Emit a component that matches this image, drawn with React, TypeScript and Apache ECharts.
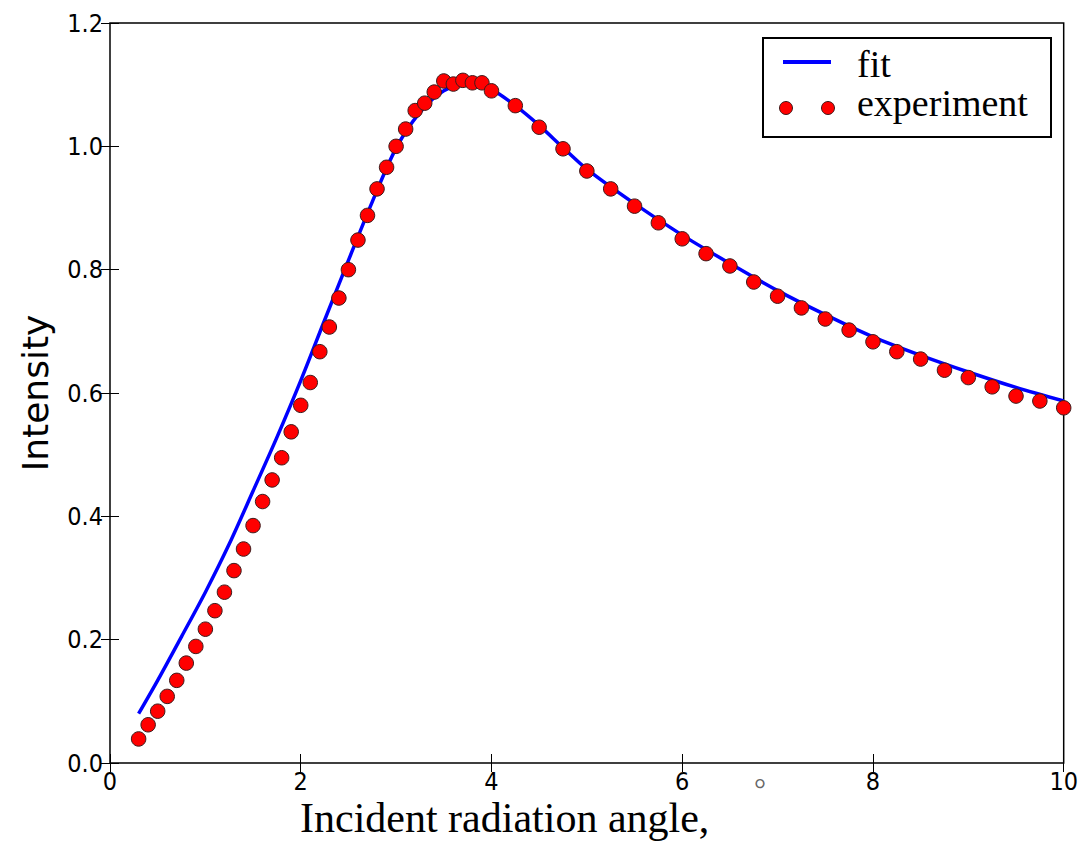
import React, { useEffect, useRef } from "react";
import * as echarts from "echarts";

// experiment points (angle in degrees, intensity)
const expX = [
  0.3, 0.4, 0.5, 0.6, 0.7, 0.8, 0.9, 1.0, 1.1, 1.2, 1.3, 1.4, 1.5, 1.6, 1.7, 1.8, 1.9,
  2.0, 2.1, 2.2, 2.3, 2.4, 2.5, 2.6, 2.7, 2.8, 2.9, 3.0, 3.1, 3.2, 3.3, 3.4, 3.5, 3.6,
  3.7, 3.8, 3.9, 4.0, 4.25, 4.5, 4.75, 5.0, 5.25, 5.5, 5.75, 6.0, 6.25, 6.5, 6.75, 7.0,
  7.25, 7.5, 7.75, 8.0, 8.25, 8.5, 8.75, 9.0, 9.25, 9.5, 9.75, 10.0,
];
const expY = [
  0.039, 0.062, 0.084, 0.108, 0.134, 0.162, 0.189, 0.217, 0.247, 0.277, 0.312, 0.347,
  0.385, 0.424, 0.459, 0.495, 0.537, 0.58, 0.617, 0.667, 0.707, 0.754, 0.8, 0.848, 0.888,
  0.931, 0.966, 1.0, 1.028, 1.058, 1.07, 1.088, 1.106, 1.101, 1.107, 1.103, 1.103, 1.09,
  1.066, 1.031, 0.996, 0.96, 0.931, 0.903, 0.876, 0.85, 0.826, 0.806, 0.78, 0.757, 0.738,
  0.72, 0.702, 0.683, 0.667, 0.655, 0.637, 0.625, 0.61, 0.595, 0.587, 0.576,
];

// fitted curve samples
const fitX = [
  0.3, 0.5, 0.75, 1.0, 1.25, 1.5, 1.75, 2.0, 2.25, 2.5, 2.75, 3.0, 3.25, 3.5, 3.75, 4.0,
  4.25, 4.5, 4.75, 5.0, 5.5, 6.0, 6.5, 7.0, 7.5, 8.0, 8.5, 9.0, 9.5, 10.0,
];
const fitY = [
  0.08, 0.134, 0.205, 0.277, 0.355, 0.441, 0.528, 0.62, 0.718, 0.815, 0.91, 0.997, 1.055,
  1.09, 1.101, 1.092, 1.066, 1.034, 0.998, 0.963, 0.907, 0.856, 0.81, 0.766, 0.727, 0.691,
  0.661, 0.634, 0.609, 0.587,
];

const seriesNames = ["fit", "experiment"];
const xTitle = "Incident radiation angle,";
const yTitle = "Intensity";

export default function App() {
  const ref = useRef<HTMLDivElement>(null);

  useEffect(() => {
    const chart = echarts.init(ref.current!, null, { renderer: "svg" });
    const sans = "'DejaVu Sans Condensed', 'DejaVu Sans', sans-serif";
    const serif = "'Liberation Serif', 'Times New Roman', serif";
    const tick = { inside: true, length: 9, lineStyle: { color: "#000", width: 1 } };
    const tickLabel = { fontFamily: sans, fontSize: 25, color: "#000" };

    chart.setOption({
      animation: false,
      backgroundColor: "#ffffff",
      grid: {
        left: 110,
        right: 16,
        top: 23,
        bottom: 79,
        show: true,
        borderColor: "#000",
        borderWidth: 1.5,
        backgroundColor: "transparent",
      },
      xAxis: [
        {
          type: "value",
          min: 0,
          max: 10,
          interval: 2,
          position: "bottom",
          axisLine: { show: false },
          axisTick: tick,
          axisLabel: { ...tickLabel, margin: 6, formatter: (v: number) => String(v) },
          splitLine: { show: false },
        },
        {
          type: "value",
          min: 0,
          max: 10,
          interval: 2,
          position: "top",
          axisLine: { show: false },
          axisTick: tick,
          axisLabel: { show: false },
          splitLine: { show: false },
        },
      ],
      yAxis: [
        {
          type: "value",
          min: 0,
          max: 1.2,
          interval: 0.2,
          position: "left",
          name: yTitle,
          nameLocation: "middle",
          nameGap: 57,
          nameTextStyle: { fontFamily: "'DejaVu Sans', sans-serif", fontSize: 36, color: "#000" },
          axisLine: { show: false },
          axisTick: tick,
          axisLabel: { ...tickLabel, margin: 7, formatter: (v: number) => v.toFixed(1) },
          splitLine: { show: false },
        },
        {
          type: "value",
          min: 0,
          max: 1.2,
          interval: 0.2,
          position: "right",
          axisLine: { show: false },
          axisTick: tick,
          axisLabel: { show: false },
          splitLine: { show: false },
        },
      ],
      series: [
        {
          name: seriesNames[0],
          type: "line",
          xAxisIndex: 0,
          yAxisIndex: 0,
          data: fitX.map((x, i) => [x, fitY[i]]),
          smooth: 0.3,
          symbol: "none",
          lineStyle: { color: "#0000ff", width: 3.5 },
          z: 2,
        },
        {
          name: seriesNames[1],
          type: "scatter",
          xAxisIndex: 0,
          yAxisIndex: 0,
          data: expX.map((x, i) => [x, expY[i]]),
          symbol: "circle",
          symbolSize: 14.5,
          itemStyle: { color: "#ff0000", borderColor: "#3b1c1c", borderWidth: 1, opacity: 1 },
          z: 3,
        },
      ],
      graphic: [
        {
          type: "rect",
          z: 100,
          shape: { x: 763, y: 38, width: 288, height: 99 },
          style: { fill: "#fff", stroke: "#000", lineWidth: 2 },
        },
        {
          type: "line",
          z: 101,
          shape: { x1: 783, y1: 62, x2: 831, y2: 62 },
          style: { stroke: "#0000ff", lineWidth: 4 },
        },
        {
          type: "text",
          z: 101,
          x: 857,
          y: 64,
          style: {
            text: seriesNames[0],
            font: `38px ${serif}`,
            fill: "#000",
            textAlign: "left",
            textVerticalAlign: "middle",
          },
        },
        {
          type: "circle",
          z: 101,
          shape: { cx: 786, cy: 108, r: 6.5 },
          style: { fill: "#ff0000", stroke: "#3b1c1c", lineWidth: 1 },
        },
        {
          type: "circle",
          z: 101,
          shape: { cx: 828, cy: 108, r: 6.5 },
          style: { fill: "#ff0000", stroke: "#3b1c1c", lineWidth: 1 },
        },
        {
          type: "text",
          z: 101,
          x: 857,
          y: 103,
          style: {
            text: seriesNames[1],
            font: `38px ${serif}`,
            fill: "#000",
            textAlign: "left",
            textVerticalAlign: "middle",
          },
        },
        {
          type: "text",
          z: 101,
          x: 300,
          y: 818,
          style: {
            text: xTitle,
            font: `42px ${serif}`,
            lineHeight: 40,
            fill: "#000",
            textAlign: "left",
            textVerticalAlign: "middle",
          },
        },
        {
          type: "text",
          z: 101,
          x: 760,
          y: 788,
          style: {
            text: "°",
            font: `30px ${serif}`,
            fill: "#666",
            textAlign: "center",
            textVerticalAlign: "middle",
          },
        },
      ],
    });

    return () => chart.dispose();
  }, []);

  return (
    <div
      ref={ref}
      style={{ position: "fixed", left: 0, top: 0, width: 1081, height: 842, background: "#fff" }}
    />
  );
}
